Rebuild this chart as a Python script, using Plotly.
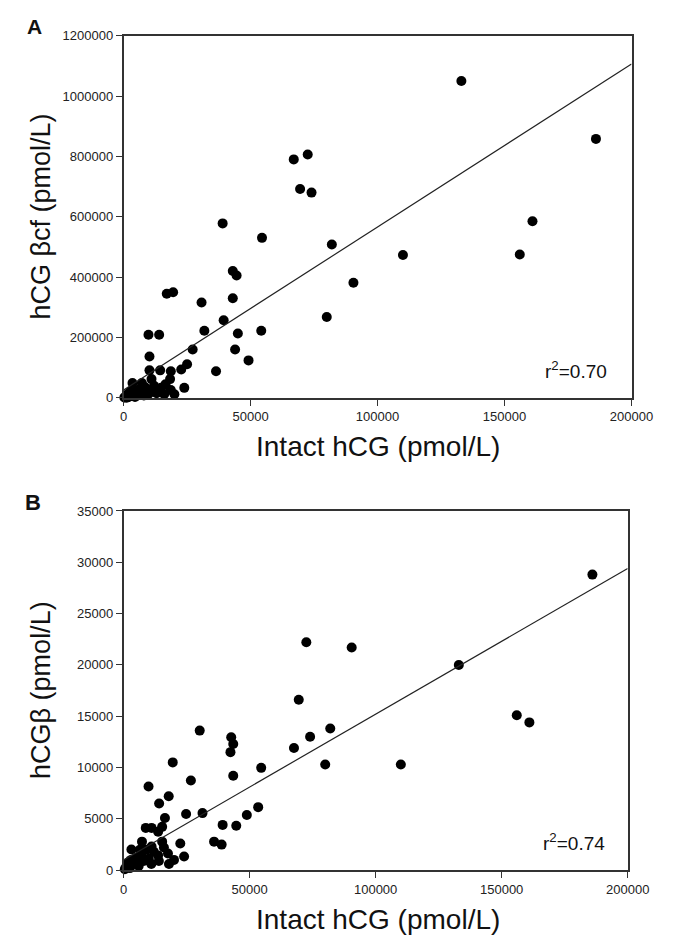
import plotly.graph_objects as go

# ---------------- data (pmol/L) ----------------
a_x = [133000, 186000, 161000, 156000, 110000, 90500, 82000, 80000, 67000, 72500,
       69500, 74000, 54500, 39000, 43000, 44500, 43000, 17000, 19500,
       30700, 39400, 31800, 45000, 54200, 43900, 49200, 36400, 27200, 25000,
       22700, 23900, 18600, 18300, 18600, 14400, 9800, 14000, 10200, 10200,
       3500, 7200, 11000, 14800, 9800,
       500, 1000, 1500, 2000, 2500, 3000, 4000, 4500, 5000, 6000, 6500, 7000,
       8000, 8500, 9000, 11000, 12000, 13000, 16000, 16500, 20000, 1200, 300]
a_y = [1050000, 858000, 585000, 475000, 473000, 381000, 508000, 268000, 790000, 806000,
       692000, 680000, 530000, 578000, 420000, 405000, 330000, 345000, 350000,
       316000, 257000, 222000, 213000, 222000, 160000, 124000, 88000, 160000, 111000,
       94000, 33000, 88000, 62000, 26000, 91000, 209000, 209000, 137000, 91000,
       49000, 49000, 62000, 33000, 13000,
       2000, 5000, 12000, 3000, 20000, 8000, 15000, 3000, 25000, 10000, 30000, 18000,
       8000, 35000, 25000, 20000, 40000, 15000, 12000, 45000, 12000, 500, 1000]

b_x = [186000, 133000, 156000, 161000, 110000, 90500, 72500, 69500, 74000, 82000,
       80000, 67600,
       30200, 42700, 43500, 42400, 54600, 43500, 19500, 26700, 9900, 17900,
       14100, 24800, 31300, 16400, 53400, 48900, 39300, 44700, 15300, 8800,
       11100, 13700, 35900, 38900, 22500, 15300, 7300, 3100,
       24000, 17600, 13700, 11100,
       500, 1000, 1500, 2000, 2500, 3000, 4000, 5000, 6000, 7000, 8000, 9000,
       10000, 12000, 14000, 16000, 18000, 20000, 11000, 6500]
b_y = [28800, 20000, 15100, 14400, 10300, 21700, 22200, 16600, 13000, 13800,
       10300, 11900,
       13600, 12950, 12300, 11500, 9970, 9200, 10500, 8730, 8150, 7200,
       6500, 5470, 5560, 5080, 6140, 5370, 4410, 4320, 4220, 4120,
       4120, 3740, 2780, 2490, 2590, 2780, 2780, 2010,
       1340, 1630, 1440, 2300,
       100, 300, 500, 800, 200, 1000, 600, 1200, 400, 1500, 900, 2000,
       1100, 1800, 900, 2200, 600, 1000, 600, 2000]

# regression lines (intercept, slope)
a_fit = (26000, 5.4)
b_fit = (1000, 0.142)
a_r2 = "r<sup>2</sup>=0.70"
b_r2 = "r<sup>2</sup>=0.74"
x_range = [0, 200000]

# page body has an 8px default margin: the figure starts at (8, 8) on the page
OFF = 8
W, H = 692 - OFF, 950 - OFF
def px(x): return (x - OFF) / W
def py(y): return 1 - (y - OFF) / H

FONT = "Liberation Sans, Arial, sans-serif"

fig = go.Figure()
for xs, ys, fit, xa, ya in [(a_x, a_y, a_fit, "x", "y"), (b_x, b_y, b_fit, "x2", "y2")]:
    fig.add_trace(go.Scatter(x=xs, y=ys, mode="markers", xaxis=xa, yaxis=ya,
                             marker=dict(color="black", size=10), cliponaxis=False,
                             showlegend=False, hoverinfo="x+y"))
    lx = x_range
    ly = [fit[0] + fit[1] * v for v in lx]
    fig.add_trace(go.Scatter(x=lx, y=ly, mode="lines", xaxis=xa, yaxis=ya,
                             line=dict(color="#222", width=1.2), showlegend=False,
                             hoverinfo="skip"))

axis_common = dict(showline=True, mirror=True, linecolor="#333", linewidth=1.5,
                   ticks="outside", ticklen=6, tickcolor="#333", tickwidth=1.2,
                   showgrid=False, zeroline=False,
                   tickfont=dict(family=FONT, size=13, color="#222"),
                   tickformat="d")

fig.update_layout(
    width=W, height=H, margin=dict(l=0, r=0, t=0, b=0),
    paper_bgcolor="white", plot_bgcolor="white",
    xaxis=dict(domain=[px(124), px(652)], range=x_range, dtick=50000, anchor="y", **axis_common),
    yaxis=dict(domain=[py(397), py(29)], range=[0, 1200000], dtick=200000, anchor="x", **axis_common),
    xaxis2=dict(domain=[px(124), px(648)], range=x_range, dtick=50000, anchor="y2", **axis_common),
    yaxis2=dict(domain=[py(877), py(512)], range=[0, 35000], dtick=5000, anchor="x2", **axis_common),
)

ann = []
def text(x, y, t, size, bold=False, angle=0, xanchor="center"):
    ann.append(dict(x=px(x), y=py(y), xref="paper", yref="paper", text=("<b>%s</b>" % t) if bold else t,
                    showarrow=False, textangle=angle, xanchor=xanchor, yanchor="middle",
                    font=dict(family=FONT, size=size, color="#111")))

text(31, 20, "A", 21, bold=True)
text(30, 503, "B", 22, bold=True)
text(388, 446, "Intact hCG (pmol/L)", 28)
text(388, 927, "Intact hCG (pmol/L)", 28)
text(38, 213, "hCG βcf (pmol/L)", 27, angle=-90)
text(38, 694, "hCGβ (pmol/L)", 27, angle=-90)
text(629, 369, a_r2, 19, xanchor="right")
text(627, 848, b_r2, 19, xanchor="right")
fig.update_layout(annotations=ann)

fig.write_html("out.html")
